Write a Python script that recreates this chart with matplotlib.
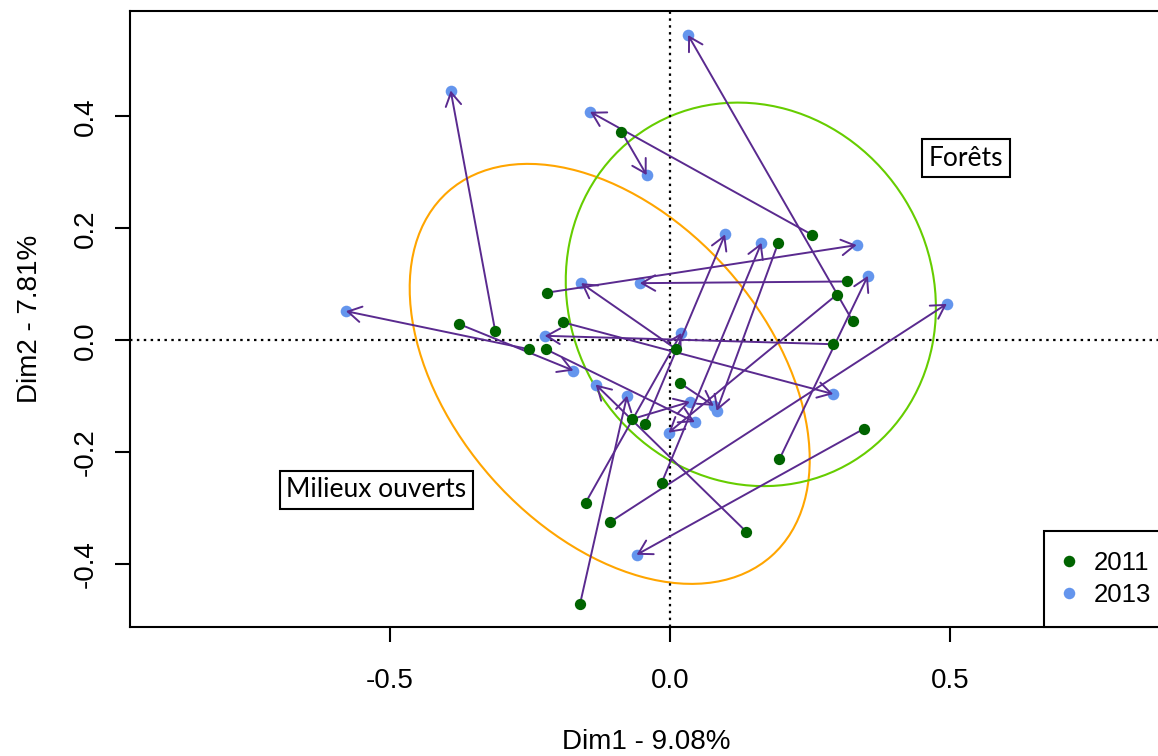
import matplotlib
matplotlib.use("Agg")
import matplotlib.pyplot as plt
from matplotlib.patches import Ellipse
from matplotlib.lines import Line2D

plt.rcParams["font.family"] = ["Liberation Sans", "DejaVu Sans"]
plt.rcParams["axes.unicode_minus"] = False

# Site coordinates on the first two factorial axes, 2011 and 2013
x_2011 = [-0.087, 0.254, 0.193, -0.220, 0.315, 0.297, -0.377, -0.3125,
          -0.191, 0.326, -0.252, -0.222, 0.290, 0.011, 0.017, -0.069,
          -0.045, 0.195, 0.346, -0.015, -0.151, -0.108, 0.136, -0.161]
y_2011 = [0.3725, 0.188, 0.174, 0.085, 0.105, 0.081, 0.029, 0.0166,
          0.032, 0.034, -0.016, -0.016, -0.007, -0.016, -0.076, -0.141,
          -0.150, -0.2125, -0.158, -0.254, -0.290, -0.325, -0.342, -0.471]
x_2013 = [-0.042, -0.143, 0.083, 0.333, -0.054, -0.003, -0.173, -0.392,
          0.291, 0.032, -0.579, 0.044, -0.224, -0.159, 0.078, 0.035,
          0.098, 0.353, -0.060, 0.163, 0.020, 0.494, -0.133, -0.077]
y_2013 = [0.295, 0.408, -0.126, 0.170, 0.102, -0.165, -0.054, 0.446,
          -0.096, 0.545, 0.052, -0.146, 0.008, 0.102, -0.117, -0.110,
          0.189, 0.115, -0.383, 0.174, 0.013, 0.065, -0.079, -0.099]

years = ["2011", "2013"]
year_colors = ["#006400", "#6495ED"]
arrow_color = "#5A2A8F"

# Habitat groups: ellipse centre, full axes lengths, orientation and label
habitat_names = ["Milieux ouverts", "Forêts"]
habitat_cx = [-0.108, 0.144]
habitat_cy = [-0.060, 0.082]
habitat_w = [0.870, 0.699]
habitat_h = [0.562, 0.646]
habitat_angle = [-48.4, -58.4]
habitat_colors = ["#FFA500", "#66CD00"]
habitat_label_x = [-0.5246, 0.528]
habitat_label_y = [-0.267, 0.3255]

x_ticks = [-0.5, 0.0, 0.5]
y_ticks = [-0.4, -0.2, 0.0, 0.2, 0.4]
x_title = "Dim1 - 9.08%"
y_title = "Dim2 - 7.81%"

x_lim = (-0.9655, 0.8805)
y_lim = (-0.512, 0.588)

fig = plt.figure(figsize=(11.58, 7.56), dpi=100)
# equal scale on both axes (560 px per unit); the right edge runs past the canvas
ax_w = (x_lim[1] - x_lim[0]) * 560
ax_h = (y_lim[1] - y_lim[0]) * 560
ax = fig.add_axes([129.5 / 1158, 129 / 756, ax_w / 1158, ax_h / 756])
ax.set_xlim(*x_lim)
ax.set_ylim(*y_lim)

for cx, cy, w, h, a, c in zip(habitat_cx, habitat_cy, habitat_w, habitat_h,
                              habitat_angle, habitat_colors):
    ax.add_patch(Ellipse((cx, cy), w, h, angle=a, fill=False,
                         edgecolor=c, lw=1.5, zorder=1))

ax.axhline(0, color="black", lw=1.6, ls=(0, (1.1, 2.0)), zorder=2)
ax.axvline(0, color="black", lw=1.6, ls=(0, (1.1, 2.0)), zorder=2)

ax.scatter(x_2013, y_2013, s=70, color=year_colors[1], zorder=3, linewidths=0)
for x0, y0, x1, y1 in zip(x_2011, y_2011, x_2013, y_2013):
    ax.annotate("", xy=(x1, y1), xytext=(x0, y0),
                arrowprops=dict(arrowstyle="->,head_length=9.6,head_width=5.6",
                                mutation_scale=1, color=arrow_color, lw=1.4,
                                shrinkA=0, shrinkB=0),
                zorder=4)
ax.scatter(x_2011, y_2011, s=66, color=year_colors[0], zorder=5, linewidths=0)

for name, lx, ly in zip(habitat_names, habitat_label_x, habitat_label_y):
    ax.text(lx, ly, name, family="Lato", fontsize=19, ha="center",
            va="center", zorder=6,
            bbox=dict(boxstyle="square,pad=0.25", fc="white", ec="black", lw=1.5))

ax.set_xticks(x_ticks)
ax.set_xticklabels([f"{v:.1f}" for v in x_ticks])
ax.set_yticks(y_ticks)
ax.set_yticklabels([f"{v:.1f}" for v in y_ticks], rotation=90, va="center")
ax.tick_params(direction="out", length=10.8, width=1.5, labelsize=20,
               color="black")
ax.tick_params(axis="x", pad=19)
ax.tick_params(axis="y", pad=11.5)
for sp in ax.spines.values():
    sp.set_linewidth(1.5)

ax.set_xlabel(x_title, fontsize=20)
ax.set_ylabel(y_title, fontsize=20)
ax.xaxis.set_label_coords(0.5, -0.166)
ax.yaxis.set_label_coords(-0.084, 0.5)

handles = [Line2D([], [], ls="none", marker="o", markersize=8.3,
                  markerfacecolor=c, markeredgewidth=0) for c in year_colors]
leg_left = (1044.3 - 129.5) / ax_w
leg = ax.legend(handles, years, loc="lower left",
                bbox_to_anchor=(leg_left, 0.0, 1 - leg_left, 0.2), mode="expand",
                borderaxespad=0, fancybox=False, framealpha=1,
                edgecolor="black", fontsize=18.5, handlelength=0.4,
                handletextpad=0.74, borderpad=0.78, labelspacing=0.31)
leg.get_frame().set_linewidth(1.5)

fig.savefig("out.png", dpi=100)
